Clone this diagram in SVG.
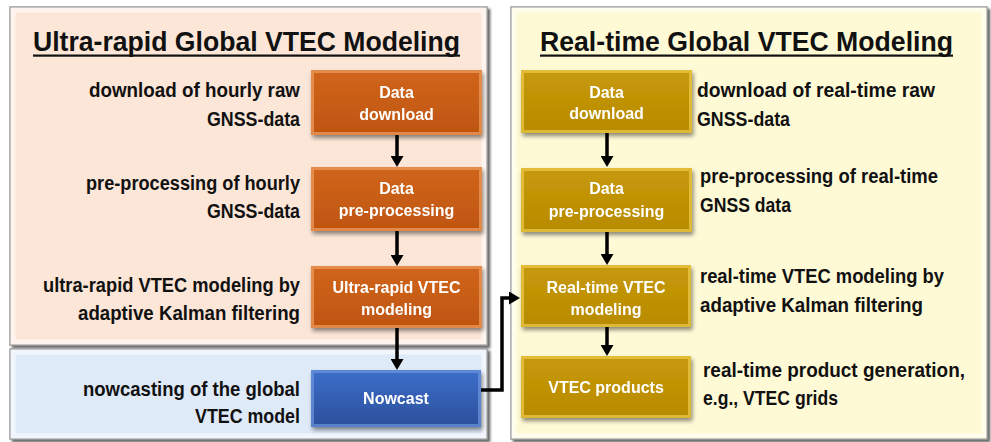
<svg xmlns="http://www.w3.org/2000/svg" width="991" height="442" viewBox="0 0 991 442">
  <defs>
    <style>
      .lbl { font-family: "Liberation Sans", Arial, sans-serif; font-weight: bold; font-size: 19.5px; fill: #111; }
      .title { font-family: "Liberation Sans", Arial, sans-serif; font-weight: bold; font-size: 27px; fill: #111; }
      .btxt { font-family: "Liberation Sans", Arial, sans-serif; font-weight: bold; font-size: 16px; fill: #fff; text-anchor: middle; }
      .conn { fill: none; stroke: #000; stroke-width: 3.5; marker-end: url(#arr); }
      .panel { stroke: #9b9b9b; stroke-width: 1.5; filter: url(#pshadow); }
      .pbevel { fill: none; stroke: #ffffff; stroke-opacity: 0.55; stroke-width: 5; }
      .box { filter: url(#bshadow); }
    </style>
    <filter id="pshadow" x="-5%" y="-5%" width="110%" height="110%">
      <feDropShadow dx="2.5" dy="2.5" stdDeviation="1.2" flood-color="#333" flood-opacity="0.75"/>
    </filter>
    <filter id="bshadow" x="-10%" y="-15%" width="125%" height="140%">
      <feDropShadow dx="1.5" dy="3" stdDeviation="2.2" flood-color="#000" flood-opacity="0.45"/>
    </filter>
    <linearGradient id="gOr" x1="0" y1="0" x2="0" y2="1">
      <stop offset="0" stop-color="#D0651C"/>
      <stop offset="1" stop-color="#BF5510"/>
    </linearGradient>
    <linearGradient id="gGo" x1="0" y1="0" x2="0" y2="1">
      <stop offset="0" stop-color="#C79A0A"/>
      <stop offset="1" stop-color="#B88A00"/>
    </linearGradient>
    <linearGradient id="gBl" x1="0" y1="0" x2="0" y2="1">
      <stop offset="0" stop-color="#3D6FC9"/>
      <stop offset="1" stop-color="#2B4F9C"/>
    </linearGradient>
    <marker id="arr" markerUnits="userSpaceOnUse" markerWidth="12" markerHeight="13" refX="7" refY="6.5" orient="auto">
      <path d="M0,0 L11,6.5 L0,13 z" fill="#000"/>
    </marker>
  </defs>

  <rect width="991" height="442" fill="#ffffff"/>

  <!-- Panels -->
  <g id="panel-ultra">
    <rect class="panel" x="10" y="7" width="477" height="338" fill="#FCE6D7"/>
    <rect class="pbevel" x="13" y="10" width="471" height="332"/>
  </g>
  <g id="panel-nowcast">
    <rect class="panel" x="10" y="349" width="477" height="90" fill="#DFEAF8"/>
    <rect class="pbevel" x="13" y="352" width="471" height="84"/>
  </g>
  <g id="panel-realtime">
    <rect class="panel" x="511" y="7" width="476" height="432" fill="#FFFAD6"/>
    <rect class="pbevel" x="514" y="10" width="470" height="426"/>
  </g>

  <!-- Titles -->
  <g id="title-left">
    <text class="title" x="33" y="51" textLength="427" lengthAdjust="spacingAndGlyphs">Ultra-rapid Global VTEC Modeling</text>
    <rect x="33" y="54.5" width="427" height="2.2" fill="#111"/>
  </g>
  <g id="title-right">
    <text class="title" x="540" y="51" textLength="413" lengthAdjust="spacingAndGlyphs">Real-time Global VTEC Modeling</text>
    <rect x="540" y="54.5" width="413" height="2.2" fill="#111"/>
  </g>

  <!-- Connectors -->
  <g id="connectors">
    <path class="conn" d="M397,135 V163"/>
    <path class="conn" d="M397,231 V262"/>
    <path class="conn" d="M397,328 V366"/>
    <path class="conn" d="M607,133 V163"/>
    <path class="conn" d="M607,232 V261"/>
    <path class="conn" d="M607,327 V352"/>
    <path class="conn" d="M481,390 H502 V298 H516"/>
  </g>

  <!-- Left nodes -->
  <g id="ur-download" class="box">
    <rect x="311" y="70" width="171" height="65" fill="url(#gOr)"/>
    <rect x="312.5" y="71.5" width="168" height="62" fill="none" stroke="#EE9A5C" stroke-width="3" stroke-opacity="0.75"/>
    <text class="btxt" x="396.5" y="98">Data</text>
    <text class="btxt" x="396.5" y="120">download</text>
  </g>
  <g id="ur-preproc" class="box">
    <rect x="311" y="167" width="171" height="64" fill="url(#gOr)"/>
    <rect x="312.5" y="168.5" width="168" height="61" fill="none" stroke="#EE9A5C" stroke-width="3" stroke-opacity="0.75"/>
    <text class="btxt" x="396.5" y="194">Data</text>
    <text class="btxt" x="396.5" y="216">pre-processing</text>
  </g>
  <g id="ur-model" class="box">
    <rect x="311" y="266" width="171" height="62" fill="url(#gOr)"/>
    <rect x="312.5" y="267.5" width="168" height="59" fill="none" stroke="#EE9A5C" stroke-width="3" stroke-opacity="0.75"/>
    <text class="btxt" x="396.5" y="293">Ultra-rapid VTEC</text>
    <text class="btxt" x="396.5" y="315">modeling</text>
  </g>
  <g id="nowcast" class="box">
    <rect x="311" y="370" width="170" height="57" fill="url(#gBl)"/>
    <rect x="312.5" y="371.5" width="167" height="54" fill="none" stroke="#6E95DE" stroke-width="3" stroke-opacity="0.7"/>
    <text class="btxt" x="396" y="404">Nowcast</text>
  </g>

  <!-- Right nodes -->
  <g id="rt-download" class="box">
    <rect x="521" y="70" width="171" height="63" fill="url(#gGo)"/>
    <rect x="522.5" y="71.5" width="168" height="60" fill="none" stroke="#EBC848" stroke-width="3" stroke-opacity="0.75"/>
    <text class="btxt" x="606.5" y="98">Data</text>
    <text class="btxt" x="606.5" y="119">download</text>
  </g>
  <g id="rt-preproc" class="box">
    <rect x="521" y="168" width="171" height="64" fill="url(#gGo)"/>
    <rect x="522.5" y="169.5" width="168" height="61" fill="none" stroke="#EBC848" stroke-width="3" stroke-opacity="0.75"/>
    <text class="btxt" x="606.5" y="194">Data</text>
    <text class="btxt" x="606.5" y="217">pre-processing</text>
  </g>
  <g id="rt-model" class="box">
    <rect x="521" y="265" width="170" height="62" fill="url(#gGo)"/>
    <rect x="522.5" y="266.5" width="167" height="59" fill="none" stroke="#EBC848" stroke-width="3" stroke-opacity="0.75"/>
    <text class="btxt" x="606" y="293">Real-time VTEC</text>
    <text class="btxt" x="606" y="315">modeling</text>
  </g>
  <g id="rt-products" class="box">
    <rect x="521" y="356" width="170" height="62" fill="url(#gGo)"/>
    <rect x="522.5" y="357.5" width="167" height="59" fill="none" stroke="#EBC848" stroke-width="3" stroke-opacity="0.75"/>
    <text class="btxt" x="606" y="393">VTEC products</text>
  </g>

  <!-- Left labels -->
  <g id="labels-left">
    <text class="lbl" x="89" y="97" textLength="211" lengthAdjust="spacingAndGlyphs">download of hourly raw</text>
    <text class="lbl" x="207" y="126" textLength="93" lengthAdjust="spacingAndGlyphs">GNSS-data</text>
    <text class="lbl" x="86" y="190" textLength="214" lengthAdjust="spacingAndGlyphs">pre-processing of hourly</text>
    <text class="lbl" x="207" y="218" textLength="93" lengthAdjust="spacingAndGlyphs">GNSS-data</text>
    <text class="lbl" x="43" y="292" textLength="257" lengthAdjust="spacingAndGlyphs">ultra-rapid VTEC modeling by</text>
    <text class="lbl" x="78" y="320" textLength="222" lengthAdjust="spacingAndGlyphs">adaptive Kalman filtering</text>
    <text class="lbl" x="83" y="396" textLength="217" lengthAdjust="spacingAndGlyphs">nowcasting of the global</text>
    <text class="lbl" x="195" y="423" textLength="105" lengthAdjust="spacingAndGlyphs">VTEC model</text>
  </g>

  <!-- Right labels -->
  <g id="labels-right">
    <text class="lbl" x="697" y="97" textLength="238" lengthAdjust="spacingAndGlyphs">download of real-time raw</text>
    <text class="lbl" x="697" y="126" textLength="93" lengthAdjust="spacingAndGlyphs">GNSS-data</text>
    <text class="lbl" x="700" y="183" textLength="238" lengthAdjust="spacingAndGlyphs">pre-processing of real-time</text>
    <text class="lbl" x="700" y="212" textLength="91" lengthAdjust="spacingAndGlyphs">GNSS data</text>
    <text class="lbl" x="700" y="283" textLength="244" lengthAdjust="spacingAndGlyphs">real-time VTEC modeling by</text>
    <text class="lbl" x="700" y="312" textLength="223" lengthAdjust="spacingAndGlyphs">adaptive Kalman filtering</text>
    <text class="lbl" x="703" y="377" textLength="262" lengthAdjust="spacingAndGlyphs">real-time product generation,</text>
    <text class="lbl" x="703" y="405" textLength="135" lengthAdjust="spacingAndGlyphs">e.g., VTEC grids</text>
  </g>
</svg>
